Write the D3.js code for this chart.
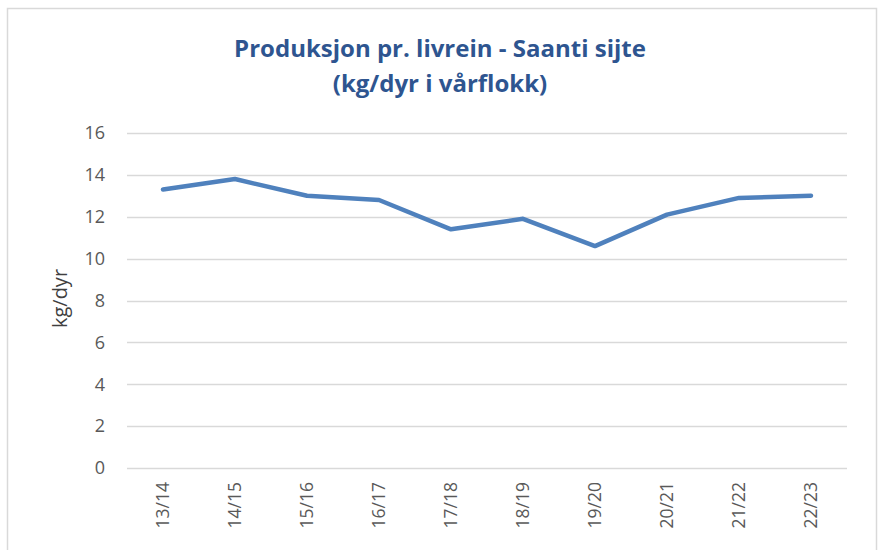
<!DOCTYPE html>
<html>
<head>
<meta charset="utf-8">
<script src="https://cdn.jsdelivr.net/npm/d3@7"></script>
<style>
  body { margin: 0; background: #fff; }
  text { font-family: "Open Sans", "Liberation Sans", sans-serif; }
</style>
</head>
<body>
<div class="line-chart"></div>
<script>
// data
const seasons = ["13/14", "14/15", "15/16", "16/17", "17/18", "18/19", "19/20", "20/21", "21/22", "22/23"];
const kgPerAnimal = [13.3, 13.8, 13.0, 12.8, 11.4, 11.9, 10.6, 12.1, 12.9, 13.0];
const yTicks = [0, 2, 4, 6, 8, 10, 12, 14, 16];
const titleLines = ["Produksjon pr. livrein - Saanti sijte", "(kg/dyr i vårflokk)"];

const W = 880, H = 550;
const margin = ({top: 133, right: 33, bottom: 82, left: 127});
const width = W - margin.left - margin.right;
const height = H - margin.top - margin.bottom;

const root = d3.select(".line-chart")
    .append("svg")
    .attr("width", W)
    .attr("height", H);

// outer chart frame
root.append("rect")
    .attr("x", 7.5)
    .attr("y", 8.5)
    .attr("width", 869)
    .attr("height", 560)
    .attr("fill", "none")
    .attr("stroke", "#d9d9d9")
    .attr("stroke-width", 1.5);

root.append("g")
    .selectAll("text")
    .data(titleLines)
    .join("text")
    .attr("x", 440)
    .attr("y", (d, i) => 57 + i * 35)
    .attr("text-anchor", "middle")
    .attr("font-size", 24)
    .attr("font-weight", "bold")
    .attr("fill", "#2e5590")
    .text(d => d);

const svg = root.append("g")
    .attr("transform", `translate(${margin.left},${margin.top})`);

const xScale = d3.scaleBand()
    .domain(seasons)
    .range([0, width]);

const yScale = d3.scaleLinear()
    .domain([0, 16])
    .range([height, 0]);

const yAxis = d3.axisLeft(yScale)
    .tickValues(yTicks)
    .tickSize(0)
    .tickPadding(22)
    .tickFormat(d3.format("d"));

const yAxisGroup = svg.append("g").call(yAxis);
yAxisGroup.select(".domain").remove();
yAxisGroup.selectAll("text")
    .attr("font-size", 18)
    .attr("fill", "#595959");

// gridlines
svg.append("g")
    .selectAll("line")
    .data(yTicks)
    .join("line")
    .attr("x1", 0)
    .attr("x2", width)
    .attr("y1", d => Math.round(yScale(d)) + 0.5)
    .attr("y2", d => Math.round(yScale(d)) + 0.5)
    .attr("stroke", "#d9d9d9")
    .attr("stroke-width", 1.3);

const xAxis = d3.axisBottom(xScale).tickSize(0);
const xAxisGroup = svg.append("g")
    .attr("transform", `translate(0,${height})`)
    .call(xAxis);
xAxisGroup.select(".domain").remove();
xAxisGroup.selectAll("text")
    .attr("font-size", 17.5)
    .attr("fill", "#595959")
    .attr("text-anchor", "end")
    .attr("transform", "rotate(-90)")
    .attr("x", -14)
    .attr("y", 0)
    .attr("dy", "0.35em");

svg.append("text")
    .attr("transform", `translate(${60 - margin.left},${height / 2 - 2}) rotate(-90)`)
    .attr("text-anchor", "middle")
    .attr("dy", "0.35em")
    .attr("font-size", 20)
    .attr("fill", "#404040")
    .text("kg/dyr");

const line = d3.line()
    .x((d, i) => xScale(seasons[i]) + xScale.bandwidth() / 2)
    .y(d => yScale(d));

svg.append("path")
    .datum(kgPerAnimal)
    .attr("fill", "none")
    .attr("stroke", "#4f81bd")
    .attr("stroke-width", 4.5)
    .attr("stroke-linejoin", "round")
    .attr("stroke-linecap", "round")
    .attr("d", line);
</script>
</body>
</html>
